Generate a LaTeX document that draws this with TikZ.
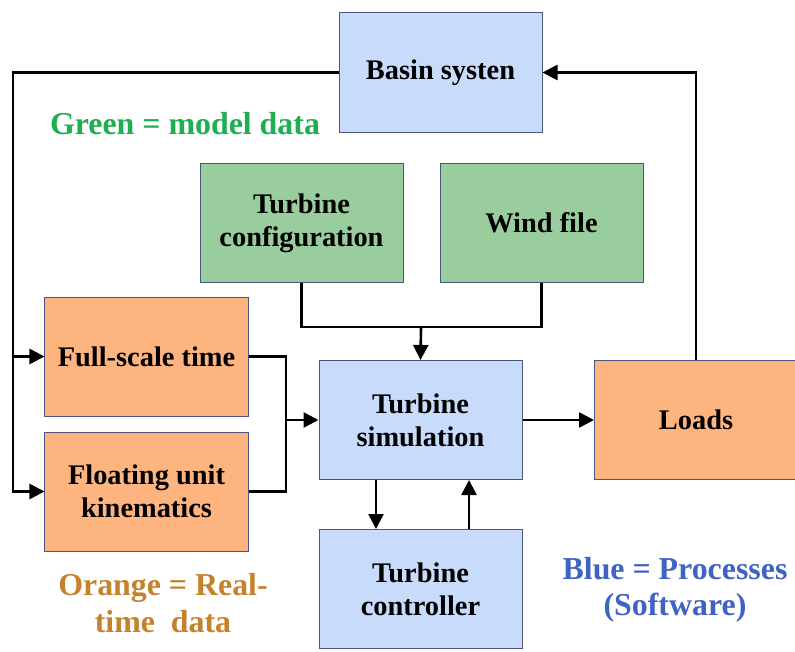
\documentclass[tikz,border=0pt]{standalone}
\usepackage{fontspec}
\setmainfont{Liberation Serif}
\usetikzlibrary{arrows.meta}
\definecolor{bluefill}{HTML}{C9DBFA}
\definecolor{greenfill}{HTML}{99CD9D}
\definecolor{orangefill}{HTML}{FDB47F}
\definecolor{boxline}{HTML}{4A5583}
\definecolor{labgreen}{HTML}{1DAF50}
\definecolor{laborange}{HTML}{C5822C}
\definecolor{labblue}{HTML}{3F63C2}
\tikzset{
  box/.style={draw=boxline, line width=1bp, minimum width=203bp, minimum height=119bp,
    inner sep=0pt, align=center, font=\fontsize{28.5}{33}\selectfont\bfseries},
  bluebox/.style={box, fill=bluefill},
  greenbox/.style={box, fill=greenfill},
  orangebox/.style={box, fill=orangefill},
  conn/.style={line width=2.6bp, black},
  arr/.style={conn, -{Triangle[length=15bp,width=15bp]}},
  legend/.style={anchor=base, inner sep=0pt, font=\fontsize{32}{37}\selectfont\bfseries}
}
\begin{document}
\begin{tikzpicture}[x=1bp,y=-1bp]
\useasboundingbox (0,0) rectangle (795,652);
\fill[white] (0,0) rectangle (795,652);
% boxes
\node[bluebox] (basin) at (440.5,72.5) {Basin systen};
\node[greenbox] (config) at (301.5,223) {Turbine\\configuration};
\node[greenbox] (wind) at (541.5,223) {Wind file};
\node[orangebox] (fst) at (146.5,356.5) {Full-scale time};
\node[orangebox] (fuk) at (146.5,491.5) {Floating unit\\kinematics};
\node[bluebox] (sim) at (420.5,420) {Turbine\\simulation};
\node[orangebox] (loads) at (696,420) {Loads};
\node[bluebox] (ctrl) at (420.5,589) {Turbine\\controller};
% legends
\node[legend, text=labgreen] (lg) at (185,135) {Green = model data};
\node[legend, text=laborange] (lo1) at (163,595) {Orange = Real-};
\node[legend, text=laborange] (lo2) at (163,632) {time\ \ data};
\node[legend, text=labblue] (lb1) at (675,579) {Blue = Processes};
\node[legend, text=labblue] (lb2) at (675,615) {(Software)};
% coordinates
\coordinate (lt) at (13,72.5);
\coordinate (lm) at (13,356.5);
\coordinate (lbot) at (13,491.5);
\coordinate (j) at (421,327);
\coordinate (k) at (286,420);
% connectors
\draw[arr] (basin.west) -- (lt) -- (lbot) -- (fuk.west);
\draw[arr] (lm) -- (fst.west);
\draw[arr] (loads.north) |- (basin.east);
\draw[conn] (config.south) |- (j) -| (wind.south);
\draw[arr] (j) -- (sim.north);
\draw[conn] (fst.east) -| (k) |- (fuk.east);
\draw[arr] (k) -- (sim.west);
\draw[arr] (sim.east) -- (loads.west);
\draw[arr] ([xshift=-44.5bp]sim.south) -- ([xshift=-44.5bp]ctrl.north);
\draw[arr] ([xshift=48.5bp]ctrl.north) -- ([xshift=48.5bp]sim.south);
\end{tikzpicture}
\end{document}
